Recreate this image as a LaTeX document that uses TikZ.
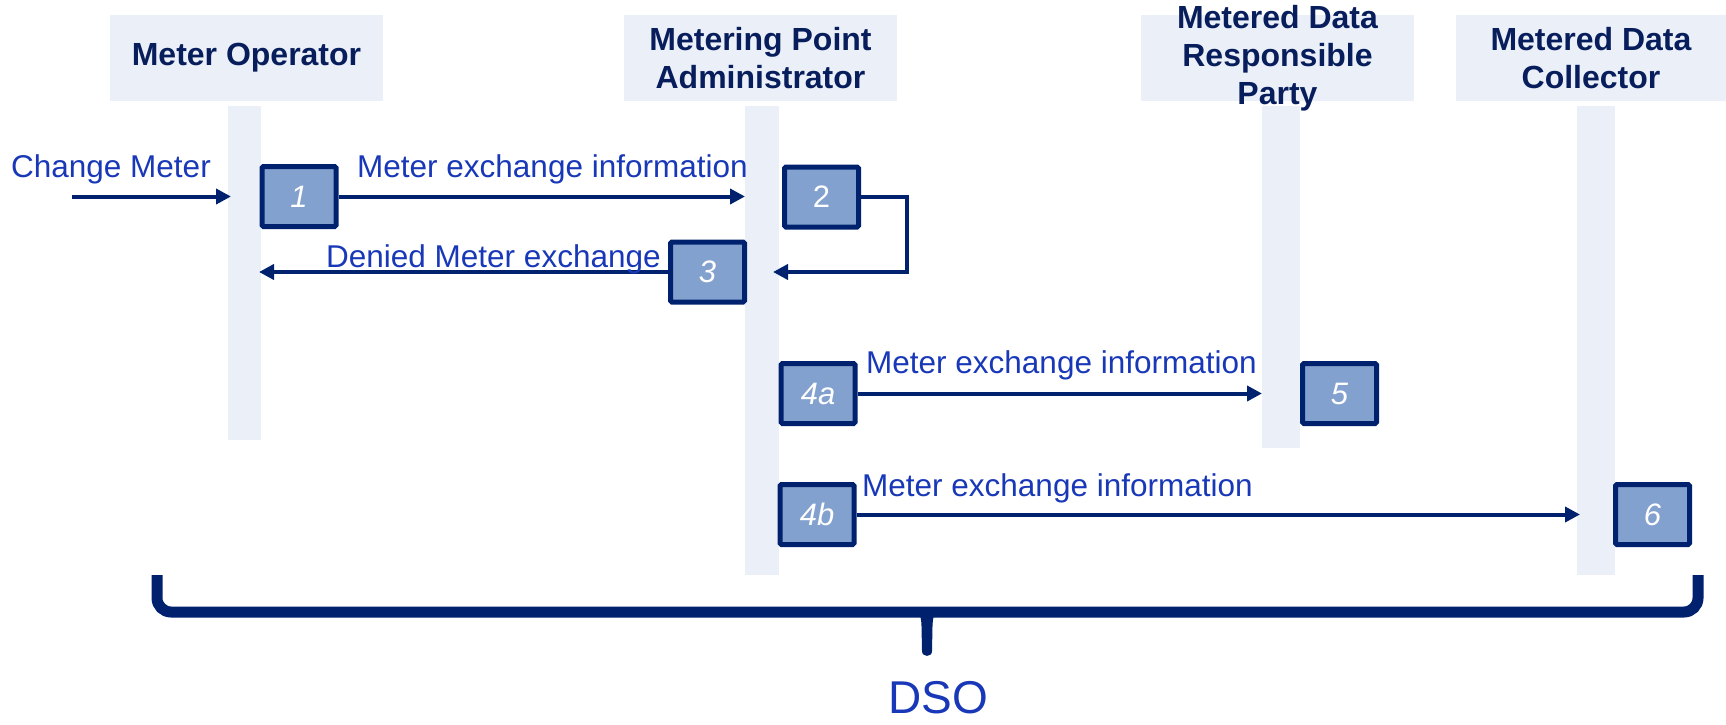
\documentclass[tikz,border=0pt]{standalone}
\usepackage{fontspec}
\setmainfont{Liberation Sans}
\usetikzlibrary{arrows.meta}
\definecolor{navy}{RGB}{0,34,110}
\definecolor{headtext}{RGB}{8,30,92}
\definecolor{msgblue}{RGB}{24,56,184}
\definecolor{stepfill}{RGB}{131,161,206}
\definecolor{lanefill}{RGB}{235,240,248}
\begin{document}
\begin{tikzpicture}[x=1pt,y=-1pt,
  lane/.style={fill=lanefill, draw=none, inner sep=0, outer sep=0},
  stepbox/.style={draw=navy, fill=stepfill, line width=5pt, rounded corners=1.5pt,
    minimum width=74pt, minimum height=60pt, inner sep=0, text=white,
    font=\fontsize{31}{36}\selectfont\itshape},
  head/.style={text=headtext, font=\fontsize{32}{38}\selectfont\bfseries, align=center, inner sep=0},
  msg/.style={text=msgblue, font=\fontsize{31.5}{38}\selectfont, inner sep=0},
  flow/.style={draw=navy, line width=4pt, -{Triangle[length=15pt,width=15pt]}}]
\useasboundingbox (0,0) rectangle (1726,725);

% role headers
\node[lane, minimum width=273pt, minimum height=86pt] (hMO)   at (246.5,58) {};
\node[lane, minimum width=273pt, minimum height=86pt] (hMPA)  at (760.5,58) {};
\node[lane, minimum width=273pt, minimum height=86pt] (hMDRP) at (1277.5,58) {};
\node[lane, minimum width=270pt, minimum height=86pt] (hMDC)  at (1591,58) {};
\node[head] (tMO)   at (hMO.center)   {Meter Operator};
\node[head] (tMPA)  at (hMPA.center)  {Metering Point\\Administrator};
\node[head] (tMDRP) at (hMDRP.center) {Metered Data\\Responsible\\Party};
\node[head] (tMDC)  at (hMDC.center)  {Metered Data\\Collector};

% lifelines
\node[lane, minimum width=33pt, minimum height=334pt] (lMO)   at (244.5,273) {};
\node[lane, minimum width=34pt, minimum height=469pt] (lMPA)  at (762,340.5) {};
\node[lane, minimum width=38pt, minimum height=342pt] (lMDRP) at (1281,277) {};
\node[lane, minimum width=38pt, minimum height=469pt] (lMDC)  at (1596,340.5) {};

% process steps
\node[stepbox] (b1)  at (299,196.5) {1};
\node[stepbox] (b2)  at (821.5,197) {\upshape 2};
\node[stepbox] (b3)  at (707.5,272) {3};
\node[stepbox] (b4a) at (818,393.5) {4a};
\node[stepbox] (b5)  at (1339.5,393.5) {5};
\node[stepbox] (b4b) at (817,514.5) {4b};
\node[stepbox] (b6)  at (1652.5,514.5) {6};

% messages
\coordinate (cm) at (72,196.5);
\draw[flow] (cm) -- ([xshift=3pt]lMO.west |- b1.center);
\node[msg, anchor=base west] (mCM) at (11,177) {Change Meter};

\draw[flow] (b1.east) -- (lMPA.west |- b1.center);
\node[msg, anchor=base west] (m12) at (357,177) {Meter exchange information};

\draw[flow] (b2.east) -- ++(46,0) |- ([xshift=-6pt]lMPA.east |- b3.center);

\draw[flow] (b3.west) -- ([xshift=-2pt]lMO.east |- b3.center);
\node[msg, anchor=base west] (m3) at (326,267) {Denied Meter exchange};

\draw[flow] (b4a.east) -- (lMDRP.west |- b4a.center);
\node[msg, anchor=base west] (m4a) at (866,373) {Meter exchange information};

\draw[flow] (b4b.east) -- ([xshift=3pt]lMDC.west |- b4b.center);
\node[msg, anchor=base west] (m4b) at (862,496) {Meter exchange information};

% DSO brace
\draw[navy, line width=11pt, rounded corners=14pt] (157,575) -- (157,612) -- (1698,612) -- (1698,575);
\fill[navy] (908,607) .. controls (919,609) and (921,614) .. (921.5,626) -- (922,651)
  .. controls (922,657.5) and (932,657.5) .. (932,651) -- (932.5,626)
  .. controls (933,614) and (935,609) .. (946,607) -- cycle;
\node[text=msgblue, font=\fontsize{46}{50}\selectfont, inner sep=0, anchor=base] (dso) at (938,713) {DSO};
\end{tikzpicture}
\end{document}
